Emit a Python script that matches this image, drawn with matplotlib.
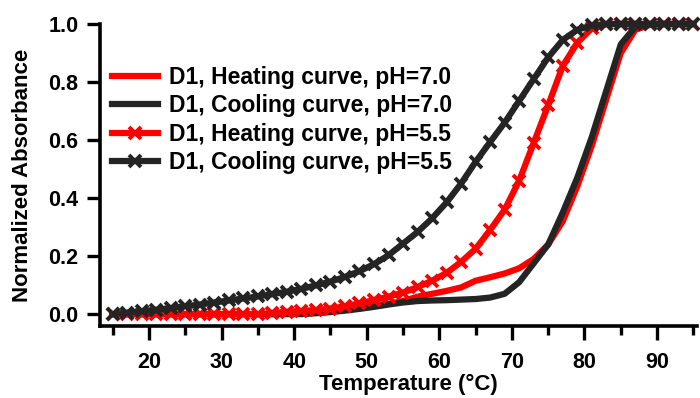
import matplotlib
matplotlib.use("Agg")
import matplotlib.pyplot as plt
from matplotlib.ticker import MultipleLocator

plt.rcParams['font.family'] = ['Liberation Sans', 'DejaVu Sans']
plt.rcParams['font.weight'] = 'bold'

# temperature (C)
temp = [15, 17, 19, 21, 23, 25, 27, 29, 31, 33, 35, 37, 39, 41, 43, 45, 47, 49, 51, 53, 55,
        57, 59, 61, 63, 65, 67, 69, 71, 73, 75, 77, 79, 81, 83, 85, 87, 89, 91, 93, 95]

# normalized absorbance, D1
heat_70 = [0.0, 0.0, 0.0, 0.0, 0.0, 0.0, 0.0, 0.0, 0.0, 0.0, 0.0, 0.0, 0.002, 0.003, 0.005,
           0.009, 0.014, 0.02, 0.027, 0.035, 0.045, 0.06, 0.07, 0.08, 0.092, 0.115, 0.127,
           0.14, 0.158, 0.19, 0.24, 0.32, 0.44, 0.58, 0.74, 0.9, 0.98, 0.997, 1.0, 1.0, 1.0]
cool_70 = [0.0, 0.0, 0.0, 0.0, 0.0, 0.0, 0.0, 0.0, 0.0, 0.0, 0.0, 0.0, 0.0, 0.0, 0.003,
           0.007, 0.012, 0.018, 0.025, 0.033, 0.04, 0.045, 0.047, 0.048, 0.05, 0.052, 0.057,
           0.07, 0.11, 0.175, 0.24, 0.35, 0.47, 0.61, 0.77, 0.93, 0.99, 1.0, 1.0, 1.0, 1.0]
heat_55 = [0.0, 0.0, 0.0, 0.0, 0.0, 0.0, 0.0, 0.0, 0.0, 0.0, 0.0, 0.004, 0.008, 0.011, 0.014,
           0.019, 0.027, 0.037, 0.048, 0.06, 0.074, 0.093, 0.115, 0.142, 0.18, 0.225, 0.29,
           0.36, 0.46, 0.59, 0.72, 0.855, 0.935, 0.985, 1.0, 1.0, 1.0, 1.0, 1.0, 1.0, 1.0]
cool_55 = [0.0, 0.005, 0.01, 0.015, 0.021, 0.027, 0.033, 0.04, 0.047, 0.054, 0.061, 0.069,
           0.077, 0.087, 0.099, 0.112, 0.128, 0.148, 0.172, 0.203, 0.243, 0.283, 0.33, 0.385,
           0.45, 0.525, 0.593, 0.66, 0.735, 0.81, 0.885, 0.945, 0.98, 0.995, 1.0, 1.0,
           1.0, 1.0, 1.0, 1.0, 1.0]

RED = '#ff0000'
DARK = '#242424'

fig = plt.figure(figsize=(7, 3.98), dpi=100)
ax = fig.add_axes([100 / 700, 72 / 398, 597 / 700, 302 / 398])

lw = 4.5
ax.plot(temp, heat_70, color=RED, lw=lw, clip_on=False, label='D1, Heating curve, pH=7.0')
ax.plot(temp, cool_70, color=DARK, lw=lw, clip_on=False, label='D1, Cooling curve, pH=7.0')
ax.plot(temp, heat_55, color=RED, lw=lw, marker='x', ms=8, mew=2.8, clip_on=False,
        label='D1, Heating curve, pH=5.5')
ax.plot(temp, cool_55, color=DARK, lw=lw, marker='x', ms=8, mew=2.8, clip_on=False,
        label='D1, Cooling curve, pH=5.5')

ax.set_xlim(13.25, 95.5)
ax.set_ylim(-0.041, 1.0)

for s in ['top', 'right']:
    ax.spines[s].set_visible(False)
for s in ['left', 'bottom']:
    ax.spines[s].set_linewidth(2.6)
    ax.spines[s].set_capstyle('projecting')

ax.xaxis.set_minor_locator(MultipleLocator(5))
ax.set_xticks([20, 30, 40, 50, 60, 70, 80, 90])
ax.set_yticks([0.0, 0.2, 0.4, 0.6, 0.8, 1.0])
ax.set_yticklabels(['0.0', '0.2', '0.4', '0.6', '0.8', '1.0'])
ax.tick_params(axis='x', which='major', length=10, width=2.4, pad=9, labelsize=15.5)
ax.tick_params(axis='x', which='minor', length=6.5, width=2.4)
ax.tick_params(axis='y', which='major', length=9.5, width=2.4, pad=6, labelsize=15.5)
for t in ax.get_xticklabels() + ax.get_yticklabels():
    t.set_fontweight('bold')

ax.set_xlabel('Temperature (°C)', fontsize=16, fontweight='bold')
ax.set_ylabel('Normalized Absorbance', fontsize=16, fontweight='bold')
ax.xaxis.set_label_coords(0.517, -0.16)
ax.yaxis.set_label_coords(-0.112, 0.5)

ax.legend(loc='upper left', bbox_to_anchor=(0.02, 0.862), frameon=False,
          borderaxespad=0, borderpad=0, handlelength=2.0, handletextpad=0.5,
          labelspacing=0.24, numpoints=1, prop={'size': 16.5, 'weight': 'bold'})

fig.savefig('out.png', dpi=100)
